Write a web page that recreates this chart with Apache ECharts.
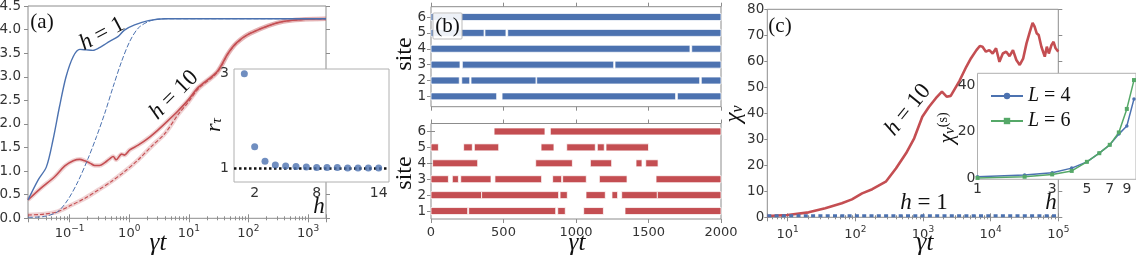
<!DOCTYPE html>
<html><head><meta charset="utf-8">
<script src="https://cdn.jsdelivr.net/npm/echarts@6/dist/echarts.min.js"></script>
<style>html,body{margin:0;padding:0;background:#fff}#c{width:1136px;height:262px}</style>
</head><body><div id="c"></div>
<script>
// ---------- panel (a): curves vs gamma t ----------
const h1SolidT = [0.02, 0.0295, 0.0407, 0.0525, 0.0676, 0.087, 0.115, 0.148, 0.19, 0.245, 0.339, 0.468, 0.646, 0.83, 1.23, 2.09, 3.98, 2000];
const h1SolidS = [0.39, 0.81, 1.09, 1.66, 2.37, 3.0, 3.43, 3.58, 3.57, 3.56, 3.64, 3.75, 3.85, 3.99, 4.1, 4.19, 4.23, 4.23];
const h1DashT = [0.02, 0.038, 0.063, 0.093, 0.138, 0.204, 0.282, 0.389, 0.537, 0.741, 1.02, 1.41, 2.09, 3.02, 5.0, 2000];
const h1DashS = [0.02, 0.04, 0.14, 0.39, 0.78, 1.27, 1.73, 2.23, 2.79, 3.32, 3.75, 4.03, 4.17, 4.22, 4.23, 4.23];
const h10SolidT = [0.02, 0.033, 0.056, 0.083, 0.115, 0.148, 0.178, 0.219, 0.263, 0.316, 0.389, 0.468, 0.537, 0.603, 0.741, 0.832, 1.02, 1.41, 2.09, 3.02, 4.47, 6.61, 9.77, 14.5, 29.5, 45.7, 63, 107, 380, 2000];
const h10SolidS = [0.39, 0.64, 0.88, 1.11, 1.22, 1.25, 1.22, 1.17, 1.12, 1.12, 1.18, 1.26, 1.31, 1.24, 1.36, 1.34, 1.45, 1.55, 1.70, 1.87, 2.07, 2.28, 2.51, 2.78, 3.1, 3.5, 3.72, 3.92, 4.17, 4.23];
const h10DashT = [0.02, 0.038, 0.063, 0.107, 0.178, 0.302, 0.501, 0.832, 1.41, 2.34, 3.98, 6.61, 9.77, 14.5, 29.5, 45.7, 63, 107, 380, 2000];
const h10DashS = [0.07, 0.09, 0.14, 0.28, 0.42, 0.6, 0.78, 0.99, 1.24, 1.52, 1.80, 2.2, 2.46, 2.75, 3.08, 3.49, 3.71, 3.92, 4.17, 4.23];
// inset (a)
const rH = [1, 2, 3, 4, 5, 6, 7, 8, 9, 10, 11, 12, 13, 14];
const rTau = [3.0, 1.45, 1.14, 1.06, 1.04, 1.03, 1.02, 1.01, 1.01, 1.01, 1.0, 1.0, 1.0, 1.0];
// ---------- panel (b): occupied segments [site, start, end] ----------
const siteTicks = [1, 2, 3, 4, 5, 6];
const blueSegs = [
  [6, 0, 2000],
  [5, 0, 366], [5, 372, 517], [5, 529, 2000],
  [4, 0, 1786], [4, 1798, 2000],
  [3, 0, 200], [3, 216, 1260], [3, 1269, 2000],
  [2, 0, 195], [2, 212, 267], [2, 276, 724], [2, 729, 1853], [2, 1864, 2000],
  [1, 0, 453], [1, 490, 1687], [1, 1699, 2000]
];
const redSegs = [
  [6, 435, 786], [6, 823, 2000],
  [5, 0, 51], [5, 225, 285], [5, 299, 467], [5, 759, 848], [5, 936, 1133], [5, 1147, 1195], [5, 1207, 1500],
  [4, 11, 322], [4, 722, 975], [4, 1099, 1246], [4, 1414, 1455], [4, 1481, 1566],
  [3, 0, 120], [3, 147, 189], [3, 205, 414], [3, 441, 763], [3, 839, 901], [3, 908, 1071], [3, 1161, 1352], [3, 1552, 2000],
  [2, 0, 349], [2, 349, 880], [2, 890, 940], [2, 1069, 1202], [2, 1248, 1287], [2, 1315, 1561], [2, 1561, 2000],
  [1, 0, 253], [1, 260, 860], [1, 874, 926], [1, 1053, 1189], [1, 1338, 2000]
];
// ---------- panel (c) ----------
const cT = [5, 10, 20.4, 35.9, 63.1, 89.1, 126, 178, 282, 398, 562, 741, 977, 1230, 1549, 1905, 2239, 2570, 3467, 4365, 5129, 6166, 6918, 7586, 8511, 9550, 10715, 12023, 13490, 15136, 16982, 19055, 21380, 23988, 26915, 30200, 33884, 38019, 41687, 44668, 47863, 51286, 56234, 63096, 67608, 72444, 79433, 85114, 91201, 100000];
const cChiH10 = [0.5, 0.9, 1.9, 3.5, 5.4, 6.9, 9.2, 10.8, 13.7, 18.8, 24.6, 30.4, 38.7, 42.5, 45.8, 48.3, 46.4, 46.7, 52.5, 57.9, 61.2, 64.3, 65.9, 65.6, 63.7, 64.3, 63, 65, 59.8, 63, 63.7, 62, 64.3, 60.5, 58.6, 61, 66.9, 71.4, 74.8, 73.3, 70.8, 70.1, 65.6, 61.8, 65.6, 63, 66.3, 67.5, 65, 63.7];
const cH1T = [5, 10, 100, 1000, 10000, 100000];
const cChiH1 = [0.6, 0.6, 0.6, 0.6, 0.6, 0.6];
// inset (c)
const insH = [1, 2, 3, 4, 5, 6, 7, 8, 9, 10];
const chiL4 = [0.6, 1.3, 2.3, 4.3, 7.0, 10.7, 14.3, 18.9, 22.4, 34.0];
const chiL6 = [0.1, 0.6, 1.6, 3.1, 7.0, 10.7, 14.3, 19.6, 29.7, 42.1];

// ---------- styling ----------
const SER = '"Liberation Serif", "DejaVu Serif", serif';
const SANS = '"DejaVu Sans", sans-serif';
const SP = '#8c8c8c', TXT = '#333', BLUE = '#4c72b0', RED = '#c44e52', GREEN = '#55a868';
const zip = (a, b) => a.map((v, i) => [v, b[i]]);

const supRich = {
  b: {fontSize: 13, fontFamily: SANS, color: TXT, lineHeight: 16, verticalAlign: 'bottom'},
  s: {fontSize: 9, fontFamily: SANS, color: TXT, lineHeight: 8, verticalAlign: 'top'}
};
function powLabel(v) {
  const e = Math.log10(v), r = Math.round(e);
  if (Math.abs(e - r) > 1e-6) return '';
  return '{b|10}{s|' + (r < 0 ? '\u2212' + (-r) : r) + '}';
}
const tick = (len) => ({show: true, length: len, lineStyle: {color: SP, width: 1}});
const noLine = {show: false};
const lbl = (o) => Object.assign({fontFamily: SANS, fontSize: 13, color: TXT}, o || {});

const gridStyle = {show: true, borderColor: SP, borderWidth: 1, backgroundColor: 'transparent', outerBoundsMode: 'none', containLabel: false};
const insetGrid = {show: true, borderColor: '#b0b0b0', borderWidth: 1, backgroundColor: '#fff', outerBoundsMode: 'none', containLabel: false, z: 5};

const grids = [
  Object.assign({left: 28, top: 6, width: 298, height: 212.3}, gridStyle),
  Object.assign({left: 234, top: 69, width: 155, height: 113}, insetGrid),
  Object.assign({left: 431, top: 6.7, width: 290, height: 100}, gridStyle),
  Object.assign({left: 431, top: 123.5, width: 290, height: 95.5}, gridStyle),
  Object.assign({left: 767.3, top: 9.3, width: 291, height: 208}, gridStyle),
  Object.assign({left: 977.5, top: 73.3, width: 158.5, height: 106}, insetGrid)
];

const logX = (gi, min, max, pos, showLabel, margin) => ({
  type: 'log', logBase: 10, gridIndex: gi, min, max, position: pos,
  axisLine: noLine, splitLine: noLine,
  axisTick: tick(4), minorTick: {show: true, splitNumber: 9, length: 2, lineStyle: {color: SP}},
  axisLabel: showLabel ? {formatter: powLabel, rich: supRich, margin: margin} : {show: false}
});

const xAxes = [
  logX(0, 0.02, 2000, 'bottom', true, 6),
  logX(0, 0.02, 2000, 'top', false),
  {type: 'value', gridIndex: 1, min: 0, max: 15, z: 6, axisLine: noLine, splitLine: noLine, axisTick: {show: false},
   axisLabel: lbl({customValues: [2, 8, 14], margin: 4, fontSize: 14})},
  {type: 'value', gridIndex: 2, min: 0, max: 2000, interval: 500, position: 'bottom', axisLine: noLine, splitLine: noLine, axisTick: tick(4), axisLabel: {show: false}},
  {type: 'value', gridIndex: 2, min: 0, max: 2000, interval: 500, position: 'top', axisLine: noLine, splitLine: noLine, axisTick: tick(4), axisLabel: {show: false}},
  {type: 'value', gridIndex: 3, min: 0, max: 2000, interval: 500, position: 'bottom', axisLine: noLine, splitLine: noLine, axisTick: tick(4),
   axisLabel: lbl({margin: 7, formatter: v => String(v)})},
  {type: 'value', gridIndex: 3, min: 0, max: 2000, interval: 500, position: 'top', axisLine: noLine, splitLine: noLine, axisTick: tick(4), axisLabel: {show: false}},
  logX(4, 5, 100000, 'bottom', true, 8),
  logX(4, 5, 100000, 'top', false),
  {type: 'log', logBase: 10, gridIndex: 5, min: 1, max: 10.3, z: 6, axisLine: noLine, splitLine: noLine, axisTick: {show: false},
   axisLabel: lbl({customValues: [1, 3, 5, 7, 9], margin: 3, fontSize: 14})}
];

const yAxes = [
  {type: 'value', gridIndex: 0, min: 0, max: 4.5, interval: 0.5, position: 'left', axisLine: noLine, splitLine: noLine, axisTick: tick(4),
   axisLabel: lbl({formatter: v => v.toFixed(1), margin: 7, fontSize: 13.5})},
  {type: 'value', gridIndex: 0, min: 0, max: 4.5, interval: 0.5, position: 'right', axisLine: noLine, splitLine: noLine, axisTick: tick(4), axisLabel: {show: false}},
  {type: 'value', gridIndex: 1, min: 0.7, max: 3.1, z: 6, axisLine: noLine, splitLine: noLine, axisTick: {show: false},
   axisLabel: lbl({customValues: [1, 3], margin: 5, fontSize: 14})},
  {type: 'value', gridIndex: 2, min: 0.35, max: 6.65, position: 'left', axisLine: noLine, splitLine: noLine,
   axisTick: Object.assign(tick(4), {customValues: siteTicks}), axisLabel: lbl({customValues: siteTicks, margin: 5, fontSize: 13.5})},
  {type: 'value', gridIndex: 2, min: 0.35, max: 6.65, position: 'right', axisLine: noLine, splitLine: noLine,
   axisTick: Object.assign(tick(4), {customValues: siteTicks}), axisLabel: {show: false}},
  {type: 'value', gridIndex: 3, min: 0.5, max: 6.5, position: 'left', axisLine: noLine, splitLine: noLine,
   axisTick: Object.assign(tick(4), {customValues: siteTicks}), axisLabel: lbl({customValues: siteTicks, margin: 5, fontSize: 13.5})},
  {type: 'value', gridIndex: 3, min: 0.5, max: 6.5, position: 'right', axisLine: noLine, splitLine: noLine,
   axisTick: Object.assign(tick(4), {customValues: siteTicks}), axisLabel: {show: false}},
  {type: 'value', gridIndex: 4, min: 0, max: 80, interval: 10, position: 'left', axisLine: noLine, splitLine: noLine, axisTick: tick(3),
   axisLabel: lbl({margin: 3, fontSize: 13.5})},
  {type: 'value', gridIndex: 4, min: 0, max: 80, interval: 10, position: 'right', axisLine: noLine, splitLine: noLine, axisTick: tick(4), axisLabel: {show: false}},
  {type: 'value', gridIndex: 5, min: -0.5, max: 45, z: 6, axisLine: noLine, splitLine: noLine, axisTick: {show: false},
   axisLabel: lbl({customValues: [0, 20, 40], margin: 2, fontSize: 14})}
];

function segRender(color) {
  return function (params, api) {
    const s = api.value(0), a = api.value(1), b = api.value(2);
    const p0 = api.coord([a, s]), p1 = api.coord([b, s]);
    const h = api.size([0, 1])[1] * 0.44;
    return {type: 'rect', shape: {x: p0[0], y: p0[1] - h / 2, width: p1[0] - p0[0], height: h},
      style: {fill: color, stroke: 'rgba(255,255,255,0.75)', lineWidth: 1}};
  };
}

const band = (data, color) => ({type: 'line', xAxisIndex: 0, yAxisIndex: 0, data, showSymbol: false, smooth: 0.3, z: 1,
  lineStyle: {color: color, width: 4.5}, silent: true});

const series = [
  band(zip(h10SolidT, h10SolidS), 'rgba(196,78,82,0.25)'),
  band(zip(h10DashT, h10DashS), 'rgba(196,78,82,0.25)'),
  {type: 'line', xAxisIndex: 0, yAxisIndex: 0, data: zip(h10DashT, h10DashS), showSymbol: false, smooth: 0.3, z: 2,
   lineStyle: {color: RED, width: 1.1, type: [4, 2]}},
  {type: 'line', xAxisIndex: 0, yAxisIndex: 0, data: zip(h10SolidT, h10SolidS), showSymbol: false, smooth: 0.3, z: 2,
   lineStyle: {color: RED, width: 1.6}},
  {type: 'line', xAxisIndex: 0, yAxisIndex: 0, data: zip(h1DashT, h1DashS), showSymbol: false, smooth: 0.3, z: 2,
   lineStyle: {color: BLUE, width: 1, type: [5, 2]}},
  {type: 'line', xAxisIndex: 0, yAxisIndex: 0, data: zip(h1SolidT, h1SolidS), showSymbol: false, smooth: 0.3, z: 2,
   lineStyle: {color: BLUE, width: 1.4}},
  {type: 'scatter', xAxisIndex: 2, yAxisIndex: 2, data: zip(rH, rTau), symbolSize: 7, z: 8,
   itemStyle: {color: BLUE},
   markLine: {silent: true, symbol: 'none', label: {show: false}, z: 7,
     lineStyle: {color: '#111', width: 2.5, type: [2.5, 2.5]}, data: [{yAxis: 1}]}},
  {type: 'custom', xAxisIndex: 3, yAxisIndex: 3, renderItem: segRender(BLUE), data: blueSegs, encode: {x: [1, 2], y: 0}, z: 2},
  {type: 'custom', xAxisIndex: 5, yAxisIndex: 5, renderItem: segRender(RED), data: redSegs, encode: {x: [1, 2], y: 0}, z: 2},
  {type: 'line', xAxisIndex: 7, yAxisIndex: 7, data: zip(cT, cChiH10), showSymbol: false, z: 2,
   lineStyle: {color: RED, width: 2.6}},
  {type: 'line', xAxisIndex: 7, yAxisIndex: 7, data: zip(cH1T, cChiH1), showSymbol: false, z: 2,
   lineStyle: {color: BLUE, width: 3.2, type: [4, 3.3]}},
  {name: 'L4', type: 'line', xAxisIndex: 9, yAxisIndex: 9, data: zip(insH, chiL4), symbol: 'circle', symbolSize: 3.5, z: 8,
   itemStyle: {color: BLUE}, lineStyle: {color: BLUE, width: 1.5}},
  {name: 'L6', type: 'line', xAxisIndex: 9, yAxisIndex: 9, data: zip(insH, chiL6), symbol: 'rect', symbolSize: 4, z: 8,
   itemStyle: {color: GREEN}, lineStyle: {color: GREEN, width: 1.5}}
];

const mRich = (size) => ({
  i: {fontFamily: SER, fontStyle: 'italic', fontSize: size, color: '#111'},
  u: {fontFamily: SER, fontSize: size, color: '#111'},
  sub: {fontFamily: SER, fontStyle: 'italic', fontSize: Math.round(size * 0.68), color: '#111', lineHeight: 8, verticalAlign: 'bottom'},
  sup: {fontFamily: SER, fontSize: Math.round(size * 0.64), color: '#111', lineHeight: 8, verticalAlign: 'top'}
});
const deg = Math.PI / 180;
function txt(x, y, text, size, rot) {
  return {type: 'text', x, y, rotation: (rot || 0) * deg, z: 30,
    style: {text, fill: '#111', align: 'center', verticalAlign: 'middle', fontFamily: SER, fontSize: size, rich: mRich(size)}};
}

const graphics = [
  txt(42, 22, '{u|(a)}', 21),
  txt(102, 34, '{i|h}{u| = 1}', 23, 28),
  txt(174, 95, '{i|h}{u| = 10}', 23, 45),
  {type: 'rect', shape: {x: 433, y: 13, width: 29, height: 26, r: 1}, z: 29, style: {fill: 'rgba(255,255,255,0.9)', stroke: '#bbb', lineWidth: 1}},
  txt(447.5, 26, '{u|(b)}', 21),
  txt(780, 26, '{u|(c)}', 21),
  txt(908, 110, '{i|h}{u| = 10}', 23, 51),
  txt(924, 203, '{i|h}{u| = 1}', 23),
  txt(158, 243, '{i|γt}', 25),
  txt(577, 243, '{i|γt}', 25),
  txt(925, 243, '{i|γt}', 25),
  txt(405, 54, '{u|site}', 24, 90),
  txt(405, 173, '{u|site}', 24, 90),
  txt(734, 114, '{i|χ}{sub|ν}', 23, 90),
  txt(214, 125, '{i|r}{sub|τ}', 22, 90),
  txt(319, 207, '{i|h}', 23),
  txt(947, 128, '{i|χ}{sub|ν}{sup|(s)}', 22, 90),
  txt(1051, 203, '{i|h}', 23)
];

const chart = echarts.init(document.getElementById('c'), null, {renderer: 'canvas'});
chart.setOption({
  animation: false,
  backgroundColor: '#fff',
  grid: grids,
  xAxis: xAxes,
  yAxis: yAxes,
  legend: {show: true, orient: 'vertical', left: 985, top: 81, itemWidth: 32, itemHeight: 8, itemGap: 5, z: 10,
    data: ['L4', 'L6'],
    formatter: n => n === 'L4' ? '{i|L}{u| = 4}' : '{i|L}{u| = 6}',
    textStyle: {fontFamily: SER, fontSize: 20, color: '#111', rich: mRich(20)}},
  series: series,
  graphic: graphics
});
</script>
</body></html>
